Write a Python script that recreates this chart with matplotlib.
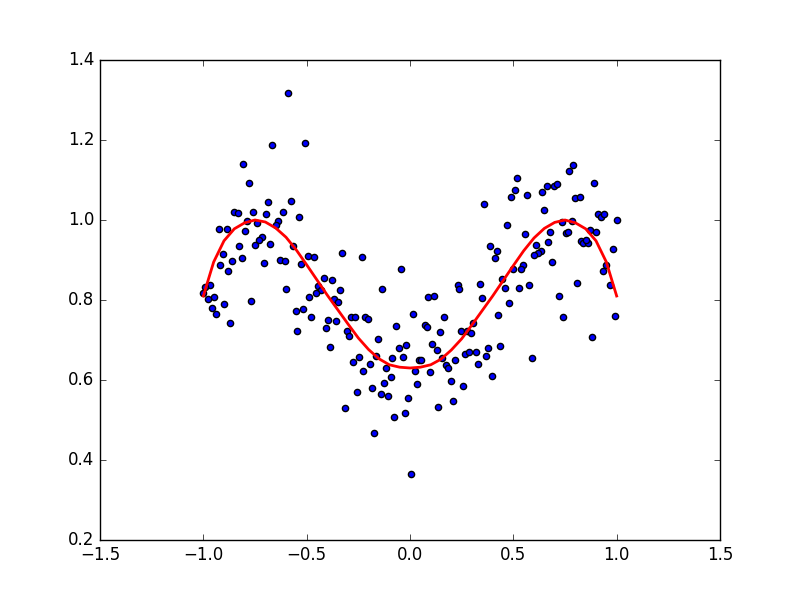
import matplotlib
matplotlib.use("Agg")
import matplotlib.pyplot as plt

plt.style.use("classic")

# scattered samples
x_pts = [
    -0.590, -0.668, -0.808, -0.779, -0.687, -0.576, -0.852, -0.832, -0.760, -0.697,
    -0.615, -0.537, -0.639, -0.648, -0.789, -0.740, -0.924, -0.885, -0.798, -0.716,
    -0.731, -0.827, -0.750, -0.677, -0.566, -0.905, -0.813, -0.861, -0.919, -0.706,
    -0.881, -0.629, -0.605, -0.527, -0.968, -0.992, -1.000, -0.948, -0.977, -0.600,
    -0.769, -0.900, -0.958, -0.939, -0.552, -0.871, -0.547, -0.508, -0.494, -0.465,
    -0.329, -0.232, -0.044, -0.416, -0.377, -0.445, -0.431, -0.339, -0.135, -0.455,
    -0.489, -0.368, -0.348, -0.518, -0.479, -0.397, -0.358, -0.285, -0.266, -0.218,
    -0.203, -0.406, -0.305, -0.295, -0.068, -0.155, -0.053, -0.019, -0.387, -0.247,
    -0.276, -0.165, -0.087, -0.034, -0.194, -0.116, -0.227, -0.092, -0.126, -0.256,
    -0.184, -0.140, -0.106, -0.010, -0.315, -0.077, -0.024, -0.174, 0.358, 0.489,
    0.469, 0.387, 0.421, 0.411, 0.232, 0.237, 0.339, 0.445, 0.460, 0.348,
    0.087, 0.116, 0.479, 0.015, 0.165, 0.426, 0.073, 0.082, 0.145, 0.247,
    0.276, 0.305, 0.295, 0.106, 0.435, 0.131, 0.044, 0.053, 0.024, 0.155,
    0.174, 0.184, 0.097, 0.218, 0.266, 0.285, 0.319, 0.368, 0.377, 0.329,
    0.397, 0.198, 0.256, 0.034, 0.135, 0.208, 0.005, 0.789, 0.769, 0.518,
    0.508, 0.566, 0.663, 0.639, 0.697, 0.711, 0.890, 0.798, 0.823, 0.648,
    0.910, 0.924, 0.939, 1.000, 0.735, 0.784, 0.556, 0.677, 0.755, 0.765,
    0.871, 0.900, 0.827, 0.837, 0.861, 0.852, 0.668, 0.610, 0.634, 0.619,
    0.600, 0.982, 0.687, 0.547, 0.537, 0.498, 0.948, 0.934, 0.527, 0.576,
    0.721, 0.808, 0.968, 0.740, 0.992, 0.881, 0.590,
]
y_pts = [
    1.318, 1.188, 1.140, 1.093, 1.045, 1.048, 1.020, 1.018, 1.020, 1.015,
    1.020, 1.008, 0.998, 0.988, 0.998, 0.993, 0.978, 0.978, 0.973, 0.958,
    0.950, 0.935, 0.938, 0.940, 0.935, 0.915, 0.905, 0.898, 0.888, 0.893,
    0.873, 0.900, 0.898, 0.890, 0.838, 0.833, 0.818, 0.808, 0.803, 0.828,
    0.798, 0.790, 0.780, 0.765, 0.773, 0.743, 0.723, 1.193, 0.910, 0.908,
    0.918, 0.908, 0.878, 0.855, 0.850, 0.835, 0.825, 0.825, 0.828, 0.818,
    0.808, 0.803, 0.795, 0.778, 0.758, 0.750, 0.748, 0.758, 0.758, 0.758,
    0.753, 0.730, 0.723, 0.710, 0.735, 0.703, 0.680, 0.688, 0.683, 0.658,
    0.645, 0.660, 0.655, 0.658, 0.640, 0.630, 0.623, 0.608, 0.593, 0.570,
    0.580, 0.565, 0.560, 0.555, 0.530, 0.508, 0.518, 0.468, 1.040, 1.058,
    0.988, 0.935, 0.923, 0.905, 0.838, 0.828, 0.840, 0.853, 0.830, 0.805,
    0.808, 0.810, 0.793, 0.765, 0.758, 0.763, 0.738, 0.733, 0.720, 0.723,
    0.723, 0.743, 0.718, 0.690, 0.685, 0.675, 0.650, 0.650, 0.623, 0.655,
    0.638, 0.630, 0.620, 0.650, 0.665, 0.670, 0.670, 0.660, 0.680, 0.640,
    0.610, 0.598, 0.585, 0.590, 0.533, 0.548, 0.365, 1.138, 1.123, 1.105,
    1.075, 1.063, 1.085, 1.070, 1.085, 1.090, 1.093, 1.055, 1.058, 1.025,
    1.015, 1.008, 1.015, 1.000, 0.995, 0.998, 0.965, 0.970, 0.968, 0.970,
    0.975, 0.970, 0.948, 0.943, 0.943, 0.950, 0.945, 0.938, 0.923, 0.918,
    0.913, 0.928, 0.895, 0.888, 0.878, 0.878, 0.888, 0.873, 0.830, 0.838,
    0.810, 0.843, 0.838, 0.758, 0.760, 0.708, 0.655,
]

# fitted curve
fit_x = [
    -1.00, -0.95, -0.90, -0.85, -0.80, -0.75, -0.70, -0.65, -0.60, -0.55,
    -0.50, -0.45, -0.40, -0.35, -0.30, -0.25, -0.20, -0.15, -0.10, -0.05,
    0.00, 0.05, 0.10, 0.15, 0.20, 0.25, 0.30, 0.35, 0.40, 0.45,
    0.50, 0.55, 0.60, 0.65, 0.70, 0.75, 0.80, 0.85, 0.90, 0.95, 1.00,
]
fit_y = [
    0.810, 0.895, 0.948, 0.978, 0.993, 1.000, 0.995, 0.980, 0.957, 0.925,
    0.888, 0.850, 0.812, 0.776, 0.740, 0.705, 0.676, 0.653, 0.638, 0.632,
    0.630, 0.632, 0.638, 0.652, 0.675, 0.703, 0.738, 0.774, 0.810, 0.848,
    0.886, 0.923, 0.955, 0.979, 0.994, 1.000, 0.993, 0.978, 0.948, 0.895, 0.810,
]

fig = plt.figure(figsize=(8, 6), dpi=100)
plt.scatter(x_pts, y_pts)
plt.plot(fit_x, fit_y, 'r-', linewidth=2)
plt.xlim(-1.5, 1.5)
plt.ylim(0.2, 1.4)
plt.savefig("out.png", dpi=100)
